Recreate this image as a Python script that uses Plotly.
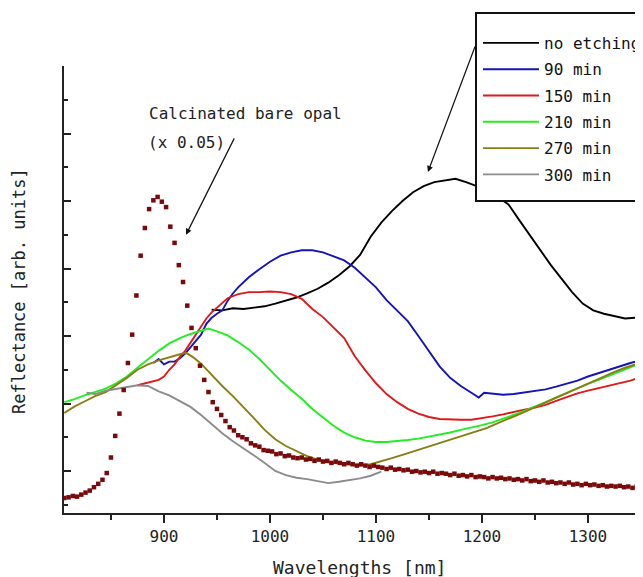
import plotly.graph_objects as go

# ---------------- data ----------------
opal_x = list(range(806, 1351, 4))
opal_y = [0.60, 0.61, 0.63, 0.62, 0.65, 0.68, 0.71, 0.76, 0.81, 0.87,
          0.97, 1.20, 1.52, 1.85, 2.20, 2.60, 3.02, 3.60, 4.19, 4.60,
          4.88, 5.01, 5.06, 4.99, 4.91, 4.62, 4.38, 4.05, 3.80, 3.45,
          3.12, 2.82, 2.56, 2.35, 2.17, 2.02, 1.92, 1.83, 1.74, 1.65,
          1.60, 1.53, 1.50, 1.47, 1.41, 1.38, 1.36, 1.31, 1.30, 1.29,
          1.25, 1.26, 1.22, 1.23, 1.20, 1.19, 1.20, 1.17, 1.18, 1.15,
          1.17, 1.14, 1.15, 1.12, 1.14, 1.12, 1.10, 1.12, 1.10, 1.08,
          1.10, 1.08, 1.06, 1.08, 1.06, 1.05, 1.03, 1.05, 1.02, 1.03,
          1.01, 1.02, 0.99, 1.00, 0.98, 0.99, 0.97, 0.99, 0.96, 0.97,
          0.96, 0.94, 0.96, 0.93, 0.94, 0.92, 0.94, 0.91, 0.92, 0.91,
          0.89, 0.91, 0.89, 0.90, 0.88, 0.89, 0.87, 0.88, 0.86, 0.88,
          0.85, 0.86, 0.84, 0.86, 0.83, 0.84, 0.82, 0.83, 0.81, 0.83,
          0.80, 0.81, 0.79, 0.81, 0.79, 0.80, 0.78, 0.79, 0.77, 0.78,
          0.77, 0.78, 0.76, 0.77, 0.75, 0.77, 0.76]

black_x = [945, 955, 965, 975, 985, 995, 1005, 1015, 1025, 1035, 1045, 1055,
           1065, 1075, 1085, 1095, 1105, 1115, 1125, 1135, 1145, 1155, 1165,
           1175, 1185, 1195, 1205, 1215, 1225, 1235, 1245, 1255, 1265, 1275,
           1285, 1295, 1305, 1315, 1325, 1335, 1345, 1352]
black_y = [3.39, 3.38, 3.41, 3.40, 3.42, 3.44, 3.48, 3.52, 3.57, 3.63, 3.70,
           3.79, 3.90, 4.03, 4.20, 4.47, 4.68, 4.85, 5.00, 5.13, 5.22, 5.28,
           5.31, 5.33, 5.28, 5.22, 5.16, 5.06, 4.95, 4.72, 4.50, 4.27, 4.05,
           3.85, 3.65, 3.48, 3.38, 3.33, 3.29, 3.26, 3.27, 3.28]

blue_x = [890, 895, 900, 905, 910, 915, 920, 925, 930, 935, 940, 945, 950,
          955, 960, 965, 970, 975, 980, 990, 1000, 1010, 1020, 1030, 1040,
          1050, 1060, 1070, 1080, 1090, 1100, 1110, 1120, 1130, 1140, 1150,
          1160, 1170, 1180, 1190, 1197, 1202, 1210, 1220, 1230, 1240, 1250,
          1260, 1270, 1280, 1290, 1300, 1310, 1320, 1330, 1340, 1352]
blue_y = [2.60, 2.66, 2.58, 2.62, 2.62, 2.67, 2.74, 2.83, 2.92, 3.02, 3.18,
          3.27, 3.33, 3.38, 3.52, 3.63, 3.72, 3.80, 3.87, 3.99, 4.10, 4.19,
          4.24, 4.27, 4.27, 4.24, 4.18, 4.12, 4.01, 3.87, 3.72, 3.53, 3.37,
          3.22, 3.00, 2.77, 2.55, 2.38, 2.26, 2.16, 2.09, 2.16, 2.15, 2.13,
          2.14, 2.16, 2.18, 2.21, 2.25, 2.29, 2.34, 2.40, 2.45, 2.51, 2.56,
          2.60, 2.65]

red_x = [875, 880, 885, 890, 895, 900, 905, 910, 915, 920, 925, 930, 935,
         940, 945, 950, 955, 960, 970, 980, 990, 1000, 1010, 1020, 1030,
         1040, 1050, 1060, 1070, 1080, 1090, 1100, 1110, 1120, 1130, 1140,
         1150, 1160, 1170, 1180, 1190, 1200, 1210, 1220, 1230, 1240, 1250,
         1260, 1270, 1280, 1290, 1300, 1310, 1320, 1330, 1340, 1352]
red_y = [2.27, 2.29, 2.30, 2.33, 2.35, 2.40, 2.50, 2.58, 2.69, 2.78, 2.90,
         3.02, 3.14, 3.26, 3.35, 3.42, 3.50, 3.56, 3.62, 3.65, 3.65, 3.66,
         3.65, 3.62, 3.55, 3.40, 3.28, 3.13, 2.97, 2.70, 2.49, 2.30, 2.14,
         2.02, 1.92, 1.85, 1.80, 1.77, 1.76, 1.76, 1.76, 1.78, 1.81, 1.84,
         1.88, 1.91, 1.94, 1.98, 2.04, 2.10, 2.15, 2.19, 2.23, 2.26, 2.30,
         2.34, 2.40]

green_x = [806, 815, 825, 835, 845, 855, 865, 875, 885, 895, 905, 915, 925,
           935, 942, 950, 960, 970, 980, 990, 1000, 1010, 1020, 1030, 1040,
           1050, 1060, 1070, 1080, 1090, 1100, 1110, 1120, 1130, 1140, 1150,
           1160, 1170, 1180, 1190, 1200, 1210, 1220, 1230, 1240, 1250, 1260,
           1270, 1280, 1290, 1300, 1310, 1320, 1330, 1340, 1352]
green_y = [2.02, 2.06, 2.12, 2.17, 2.22, 2.30, 2.40, 2.53, 2.66, 2.78, 2.89,
           2.97, 3.03, 3.08, 3.11, 3.07, 3.01, 2.91, 2.80, 2.66, 2.50, 2.34,
           2.20, 2.07, 1.92, 1.79, 1.67, 1.57, 1.50, 1.45, 1.43, 1.43, 1.44,
           1.46, 1.48, 1.51, 1.53, 1.57, 1.61, 1.64, 1.68, 1.72, 1.77, 1.83,
           1.89, 1.95, 2.02, 2.09, 2.16, 2.23, 2.29, 2.35, 2.41, 2.48, 2.54,
           2.61]

olive_x = [806, 815, 825, 835, 845, 855, 865, 875, 885, 895, 905, 915, 921,
           928, 935, 945, 955, 965, 975, 985, 995, 1005, 1015, 1025, 1035,
           1045, 1055, 1065, 1075, 1085, 1095, 1105, 1115, 1125, 1135, 1145,
           1155, 1165, 1175, 1185, 1195, 1205, 1215, 1225, 1235, 1245, 1255,
           1265, 1275, 1285, 1295, 1305, 1315, 1325, 1335, 1345, 1352]
olive_y = [1.86, 1.95, 2.03, 2.11, 2.17, 2.27, 2.38, 2.50, 2.58, 2.64, 2.69,
           2.73, 2.75, 2.68, 2.59, 2.42, 2.26, 2.11, 1.95, 1.78, 1.61, 1.47,
           1.37, 1.29, 1.22, 1.17, 1.13, 1.11, 1.09, 1.08, 1.10, 1.14, 1.19,
           1.24, 1.29, 1.34, 1.39, 1.44, 1.48, 1.53, 1.58, 1.64, 1.71, 1.77,
           1.84, 1.91, 1.98, 2.05, 2.12, 2.19, 2.27, 2.34, 2.41, 2.47, 2.53,
           2.58, 2.62]

gray_x = [827, 835, 845, 855, 865, 875, 885, 895, 905, 915, 925, 935, 945,
          955, 965, 975, 985, 995, 1005, 1015, 1025, 1035, 1045, 1055, 1065,
          1075, 1085, 1095, 1105]
gray_y = [2.16, 2.14, 2.19, 2.22, 2.25, 2.27, 2.26, 2.18, 2.12, 2.04, 1.95,
          1.83, 1.69, 1.56, 1.44, 1.34, 1.23, 1.12, 1.00, 0.94, 0.90, 0.88,
          0.85, 0.82, 0.84, 0.86, 0.89, 0.93, 0.99]

series_names = ["no etching", "90 min", "150 min", "210 min", "270 min", "300 min"]
series_colors = ["#000000", "#1414b8", "#e01818", "#20ee20", "#8a7d14", "#8c8c8c"]
series_x = [black_x, blue_x, red_x, green_x, olive_x, gray_x]
series_y = [black_y, blue_y, red_y, green_y, olive_y, gray_y]

x_tick_vals = [900, 1000, 1100, 1200, 1300]
x_tick_text = ["900", "1000", "1100", "1200", "1300"]

# ---------------- figure ----------------
FONT = "DejaVu Sans Mono"
PW, PH = 579.0, 447.0          # plot area size in px
def px(P):                     # page x -> paper fraction
    return (P - 64) / PW
def py(P):                     # page y -> paper fraction
    return (513 - P) / PH

fig = go.Figure()

for name, col, xs, ys in zip(series_names, series_colors, series_x, series_y):
    fig.add_trace(go.Scatter(x=xs, y=ys, mode="lines", name=name,
                             legendgroup=name,
                             line=dict(color=col, width=1.9)))

fig.add_trace(go.Scatter(x=opal_x, y=opal_y, mode="markers", showlegend=False,
                         name="Calcinated bare opal (x 0.05)",
                         marker=dict(symbol="square", size=4.5, color="#7a0a0a",
                                     line=dict(width=0))))

fig.update_layout(
    width=635, height=569,
    margin=dict(l=56, r=0, t=58, b=64, autoexpand=False),
    paper_bgcolor="white", plot_bgcolor="white",
    font=dict(family=FONT, size=16, color="#222"),
    showlegend=True,
    legend=dict(x=px(478), xanchor="left",
                y=py(26), yanchor="top",
                bgcolor="rgba(0,0,0,0)", borderwidth=0,
                font=dict(family=FONT, size=16, color="#111"),
                tracegroupgap=2.5, itemwidth=56),
    xaxis=dict(range=[805.7, 1351.9], showgrid=False, zeroline=False,
               showline=True, linecolor="#222", linewidth=2,
               tickmode="array", tickvals=x_tick_vals, ticktext=x_tick_text,
               ticks="outside", ticklen=8, tickwidth=2, tickcolor="#222",
               tickfont=dict(family=FONT, size=16, color="#222"),
               minor=dict(dtick=50, tick0=850, ticks="outside", ticklen=5,
                          tickwidth=2, tickcolor="#222")),
    yaxis=dict(range=[0.378, 7.0], showgrid=False, zeroline=False,
               showline=True, linecolor="#222", linewidth=2,
               showticklabels=False, dtick=1, tick0=0,
               ticks="inside", ticklen=7, tickwidth=2, tickcolor="#222",
               minor=dict(dtick=0.5, tick0=0.5, ticks="inside", ticklen=4,
                          tickwidth=2, tickcolor="#222")),
)

# legend frame (extends past the right edge, as in the reference)
fig.add_shape(type="rect", xref="paper", yref="paper",
              x0=px(476), x1=px(700), y0=py(201), y1=py(13),
              fillcolor="white", line=dict(color="#111", width=2),
              layer="above")

# axis titles
fig.add_annotation(text="Wavelengths [nm]", xref="paper", yref="paper",
                   x=px(359.5), y=py(567), xanchor="center", yanchor="middle",
                   showarrow=False, font=dict(family=FONT, size=18, color="#222"))
fig.add_annotation(text="Reflectance [arb. units]", xref="paper", yref="paper",
                   x=px(19), y=py(291), xanchor="center", yanchor="middle",
                   textangle=-90,
                   showarrow=False, font=dict(family=FONT, size=17, color="#222"))

# labels
fig.add_annotation(text="Calcinated bare opal", x=884, y=6.29, xanchor="left",
                   yanchor="middle",
                   showarrow=False, font=dict(family=FONT, size=16, color="#222"))
fig.add_annotation(text="(x 0.05)", x=883, y=5.87, xanchor="left",
                   yanchor="middle",
                   showarrow=False, font=dict(family=FONT, size=16, color="#222"))

# arrows
fig.add_annotation(x=920.8, y=4.50, ax=967, ay=5.95, xref="x", yref="y",
                   axref="x", ayref="y", text="", showarrow=True,
                   arrowhead=2, arrowsize=1, arrowwidth=1.2, arrowcolor="#111")
fig.add_annotation(x=1149, y=5.43, ax=1194, ay=7.31, xref="x", yref="y",
                   axref="x", ayref="y", text="", showarrow=True,
                   arrowhead=2, arrowsize=1, arrowwidth=1.2, arrowcolor="#111")

fig.write_html("out.html")
